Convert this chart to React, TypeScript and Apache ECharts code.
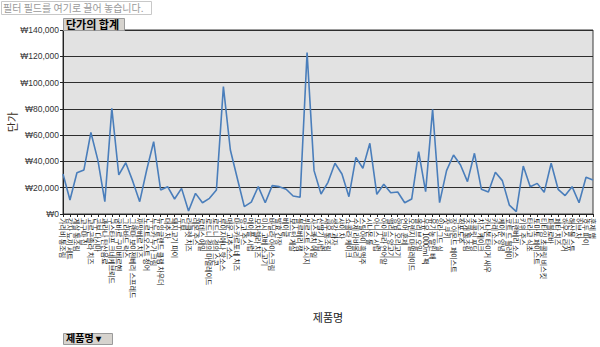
import React, { useEffect, useRef } from "react";
import * as echarts from "echarts";

// 제품별 단가 (원)
const productNames: string[] = [
  "가리비 통조림", "감자 뇨끼 세트", "게살 통조림", "고구마 칩", "고르곤졸라 치즈", "곤부 다시마",
  "과라나 탄산음료", "구스타프 크네케브뢰드", "굼바르 구미베르헨", "그라바드 락스", "그랜마 보이젠베리 스프레드",
  "까망베르 치즈", "노르트오스트 청어", "누누카 누가 크림", "뉴잉글랜드 클램 차우더", "대추 차", "돼지고기 파이",
  "두부", "라클렛 치즈", "레몬 주스", "로데스 에일", "로드니 경의 마멀레이드", "로드니 경의 스콘",
  "루이지애나 핫소스", "매운 고추 소스", "마스카르포네 치즈", "망고 주스", "메이플 시럽", "모차렐라 치즈",
  "미시 고베 소고기", "바닐라 아이스크림", "발효 간장", "베이글", "보스턴 게살", "블루베리 잼",
  "뷔르스트 소시지", "사스콰치 에일", "산딸기 시럽", "새우 통조림", "생강 과자", "샤이 차", "쇼콜라 케이크",
  "수제 라비올리", "스틸아이 흑맥주", "시나몬 롤", "아니스 시럽", "아이쿠라 연어알", "앨리스 양고기",
  "양념 오리고기", "연어 훈제", "오렌지 마멀레이드", "올리브 오일", "우유 1000ml 팩", "유기농 말린 배",
  "잉라그드 실", "잣 쿠키", "장 아몬드 페이스트", "적포도주", "조개 통조림", "초콜릿 푸딩", "치즈 케이크",
  "카나본 타이거 새우", "카레 소스", "케이준 양념", "코트 드 블레이", "크랜베리 소스", "키위 주스",
  "타라고 식초", "토마토 페이스트", "티타임 초콜릿 비스킷", "파블로바", "페타 치즈", "하우스 라거",
  "해산물 스튜", "허브 차", "호두 파이", "훈제 햄"
];

const unitPrices: number[] = [
  30400, 10600, 31400, 33500, 62000, 41000, 9400, 80400, 29700, 39000, 25000,
  9400, 33500, 55000, 18300, 20800, 11400, 19500, 2300, 15700, 8600, 11900,
  18300, 96900, 48700, 27000, 5600, 9000, 20800, 8600, 21600, 20800, 18800,
  13700, 12700, 122800, 33000, 15200, 24100, 38600, 30400, 13200, 43100, 34800,
  53800, 15000, 22600, 16200, 16700, 8600, 11400, 47400, 17000, 79700, 8600,
  33000, 44900, 37300, 24600, 46200, 18800, 16700, 31700, 25400, 6800, 1800,
  36500, 20800, 23300, 16500, 38600, 18800, 14000, 20800, 8600, 27900, 25900
];

const yTicks = { min: 0, max: 140000, interval: 20000 };

const KR = "'Noto Sans CJK KR', 'Liberation Sans', sans-serif";

export default function App() {
  const ref = useRef<HTMLDivElement>(null);

  useEffect(() => {
    if (!ref.current) return;
    const chart = echarts.init(ref.current, null, { renderer: "svg" });
    chart.setOption({
      animation: false,
      backgroundColor: "#ffffff",
      grid: {
        left: 63,
        right: 7,
        top: 30,
        bottom: 133,
        containLabel: false,
        outerBoundsMode: "none",
        show: true,
        backgroundColor: "#e2e2e2",
        borderColor: "#3a3a3a",
        borderWidth: 1,
      },
      xAxis: {
        type: "category",
        data: productNames,
        boundaryGap: false,
        name: "제품명",
        nameLocation: "middle",
        nameGap: 97,
        nameMoveOverlap: false,
        nameTextStyle: { fontFamily: KR, fontSize: 11, color: "#222" },
        axisLine: { lineStyle: { color: "#222", width: 1 } },
        axisTick: { show: true, interval: 0, length: 3, lineStyle: { color: "#222" } },
        axisLabel: {
          interval: 0,
          rotate: -90,
          margin: 4,
          fontFamily: KR,
          fontSize: 7,
          color: "#111",
          hideOverlap: false,
        },
        splitLine: { show: false },
      },
      yAxis: {
        type: "value",
        min: yTicks.min,
        max: yTicks.max,
        interval: yTicks.interval,
        name: "단가",
        nameLocation: "middle",
        nameGap: 46,
        nameMoveOverlap: false,
        nameTextStyle: { fontFamily: KR, fontSize: 11, color: "#3a2e22" },
        axisLine: { show: true, lineStyle: { color: "#222", width: 1 } },
        axisTick: { show: true, length: 3, lineStyle: { color: "#222" } },
        axisLabel: {
          margin: 4,
          fontFamily: "'Liberation Sans', 'DejaVu Sans', sans-serif",
          fontSize: 8.5,
          color: "#333",
          formatter: (v: number) => "₩" + v.toLocaleString("en-US"),
        },
        splitLine: { show: true, lineStyle: { color: "#2e2e2e", width: 1 } },
      },
      series: [
        {
          type: "line",
          data: unitPrices,
          symbol: "none",
          lineStyle: { color: "#4a7ebb", width: 1.6 },
        },
      ],
      graphic: [
        {
          type: "rect",
          left: 1,
          top: 1,
          shape: { width: 150, height: 13 },
          style: { fill: "#ffffff", stroke: "#c8c8c8", lineWidth: 1 },
        },
        {
          type: "text",
          left: 3,
          top: 2,
          style: {
            text: "필터 필드를 여기로 끌어 놓습니다.",
            fontFamily: KR,
            fontSize: 10,
            fill: "#9a9a9a",
          },
        },
        {
          type: "rect",
          left: 63,
          top: 18,
          shape: { width: 61, height: 12 },
          style: { fill: "#d6d3ce", stroke: "#9a9a9a", lineWidth: 1 },
          z: 10,
        },
        {
          type: "text",
          left: 66,
          top: 18,
          z: 11,
          style: {
            text: "단가의 합계",
            fontFamily: KR,
            fontSize: 11,
            fontWeight: "bold",
            fill: "#000",
          },
        },
        {
          type: "rect",
          left: 63,
          top: 333,
          shape: { width: 49, height: 11 },
          style: { fill: "#d6d3ce", stroke: "#9a9a9a", lineWidth: 1 },
        },
        {
          type: "text",
          left: 66,
          top: 332,
          style: {
            text: "제품명 ▾",
            fontFamily: KR,
            fontSize: 10,
            fontWeight: "bold",
            fill: "#000",
          },
        },
      ],
    });
    return () => chart.dispose();
  }, []);

  return (
    <div
      ref={ref}
      style={{ position: "fixed", left: 0, top: 0, width: 600, height: 347 }}
    />
  );
}
